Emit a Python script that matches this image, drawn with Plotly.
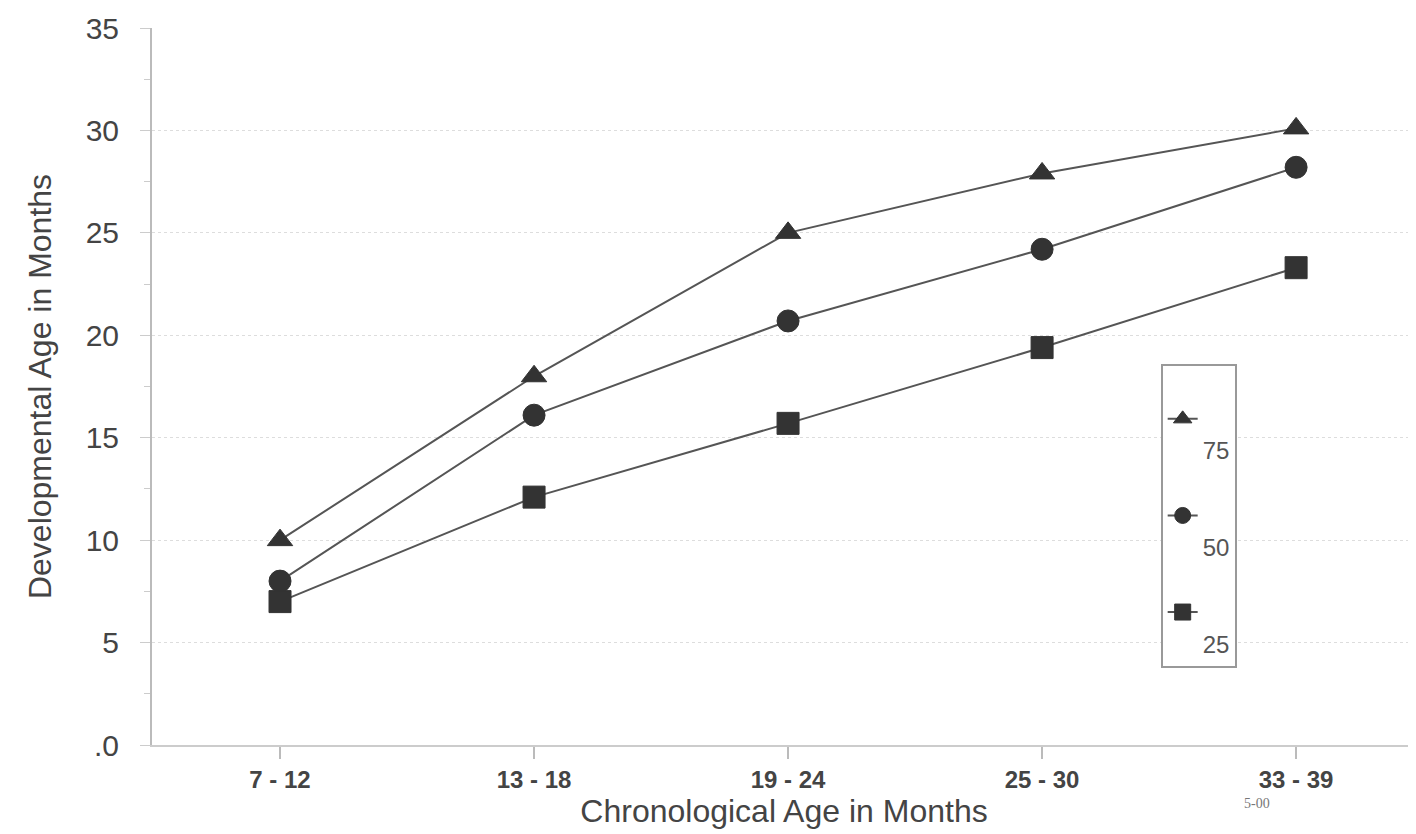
import plotly.graph_objects as go

categories = ["7 - 12", "13 - 18", "19 - 24", "25 - 30", "33 - 39"]
p75 = [10.0, 18.0, 25.0, 27.9, 30.1]
p50 = [8.0, 16.1, 20.7, 24.2, 28.2]
p25 = [7.0, 12.1, 15.7, 19.4, 23.3]
series_names = ["<br><br>75", "<br><br>50", "<br><br>25"]
y_ticks = [0, 5, 10, 15, 20, 25, 30, 35]
y_tick_labels = [".0", "5", "10", "15", "20", "25", "30", "35"]

fig = go.Figure()
symbols = ["triangle-up", "circle", "square"]
for vals, name, sym in zip([p75, p50, p25], series_names, symbols):
    fig.add_trace(go.Scatter(
        x=categories, y=vals, name=name, mode="lines+markers",
        line=dict(color="#555555", width=2),
        marker=dict(symbol=sym, size=22, color="#333333",
                    line=dict(color="#333333", width=1)),
    ))

fig.update_layout(
    width=1408, height=826,
    margin=dict(l=144, r=0, t=20, b=89),
    paper_bgcolor="white", plot_bgcolor="white",
    font=dict(family="Liberation Sans, Arial, sans-serif", color="#444444"),
    showlegend=True,
    legend=dict(
        x=0.798, y=0.532, xanchor="left", yanchor="top",
        bgcolor="white", bordercolor="#999999", borderwidth=2,
        font=dict(size=24, color="#555555"),
        itemwidth=30, tracegroupgap=0,
    ),
    xaxis=dict(
        type="category", range=[-0.504, 4.472], automargin=False,
        showline=True, linecolor="#cccccc", linewidth=2,
        ticks="outside", ticklen=12, tickcolor="#bbbbbb", tickwidth=2,
        tickfont=dict(size=24, color="#444444", family="Liberation Sans, Arial", weight="bold"),
        showgrid=False, zeroline=False,
        title=dict(text="Chronological Age in Months",
                   font=dict(size=32, color="#444444"), standoff=4),
    ),
    yaxis=dict(
        range=[0, 35], tickvals=y_ticks, ticktext=y_tick_labels, automargin=False,
        showline=True, linecolor="#bbbbbb", linewidth=2,
        ticks="outside", ticklen=10, tickcolor="#cccccc", ticklabelstandoff=15,
        tickfont=dict(size=30, color="#444444"),
        showgrid=True, gridcolor="#dddddd", griddash="dot", gridwidth=1,
        zeroline=False,
        minor=dict(dtick=2.5, ticks="outside", ticklen=6, tickcolor="#cccccc", showgrid=False),
        title=dict(text="Developmental Age in Months",
                   font=dict(size=32, color="#444444"), standoff=24),
    ),
)

fig.add_annotation(text="5-00", x=0.886, y=-0.095, xref="paper", yref="paper",
                   showarrow=False, font=dict(family="Liberation Serif, serif", size=14, color="#777777"))

fig.write_html("out.html")
